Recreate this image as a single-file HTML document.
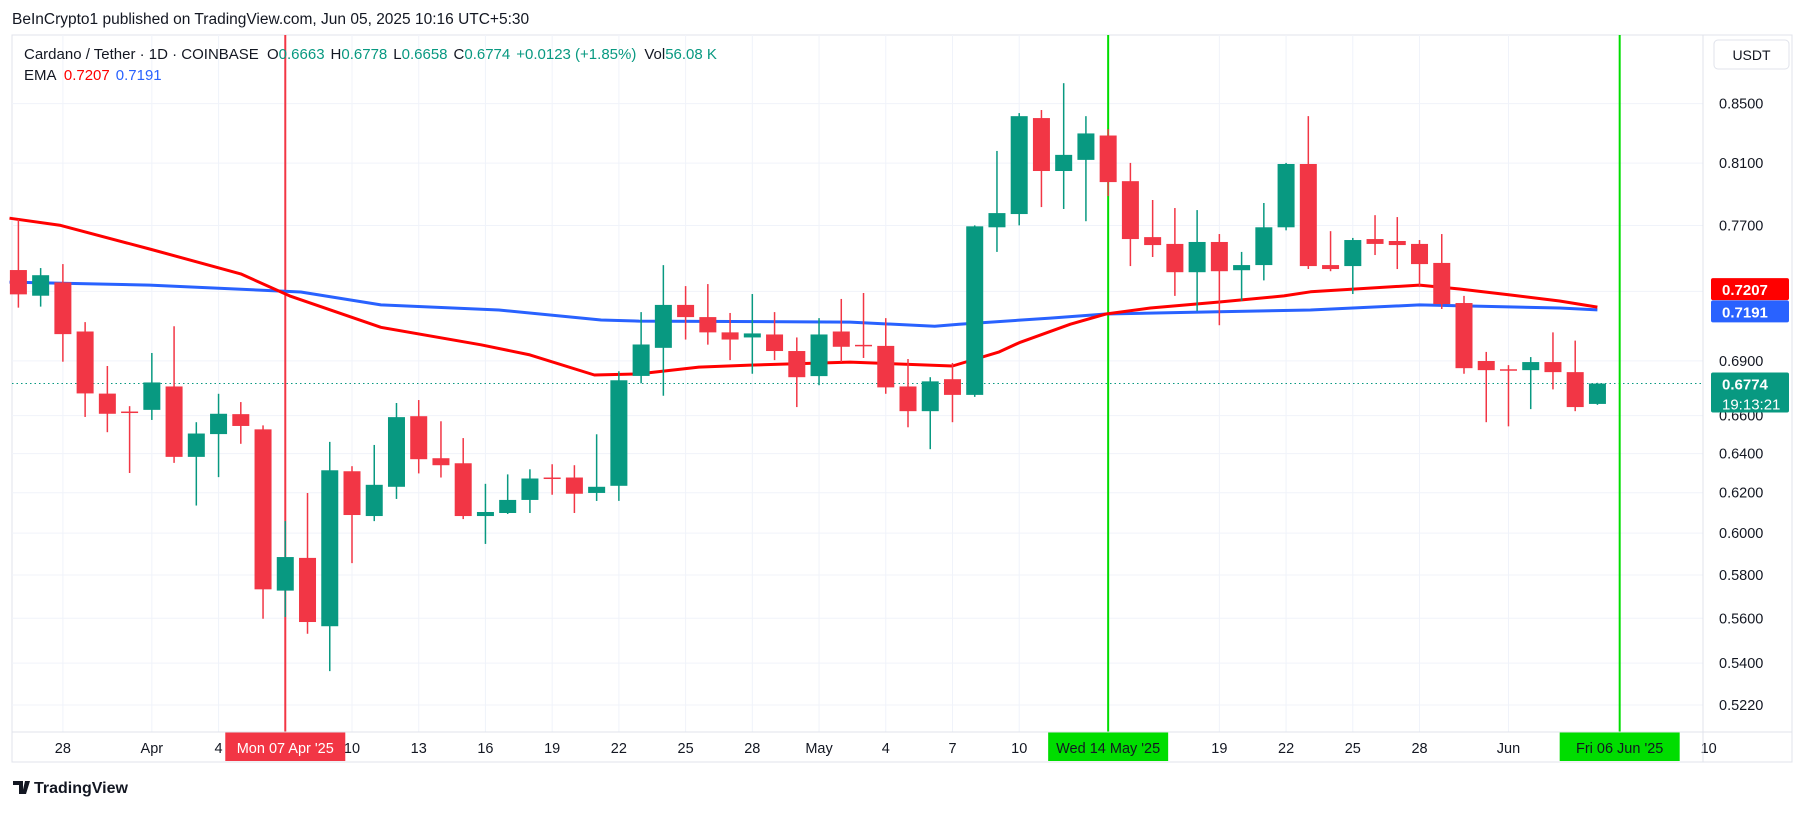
<!DOCTYPE html>
<html><head><meta charset="utf-8"><style>
html,body{margin:0;padding:0;background:#fff;}
body{width:1804px;height:809px;overflow:hidden;font-family:"Liberation Sans",sans-serif;}
svg text{font-family:"Liberation Sans",sans-serif;}
</style></head><body>
<svg id="chart" xmlns="http://www.w3.org/2000/svg" width="1804" height="809" viewBox="0 0 1804 809">
<rect x="0" y="0" width="1804" height="809" fill="#fff"/>
<text x="12" y="24" font-size="15.5" fill="#131722">BeInCrypto1 published on TradingView.com, Jun 05, 2025 10:16 UTC+5:30</text>
<rect x="12" y="35" width="1780" height="727" fill="none" stroke="#e0e3eb" stroke-width="1"/>
<g id="grid"></g>
<g id="vlines"></g>
<g id="emas"></g>
<g id="candles"></g>
<g id="axis"></g>
<g id="taxis"></g>
<line x1="1703" y1="35" x2="1703" y2="762" stroke="#e0e3eb"/>
<line x1="12" y1="732" x2="1792" y2="732" stroke="#e0e3eb"/>
<text x="24" y="59" font-size="15" fill="#131722">Cardano / Tether · 1D · COINBASE <tspan dx="4">O</tspan><tspan fill="#089981">0.6663</tspan><tspan dx="6">H</tspan><tspan fill="#089981">0.6778</tspan><tspan dx="6">L</tspan><tspan fill="#089981">0.6658</tspan><tspan dx="6">C</tspan><tspan fill="#089981">0.6774</tspan><tspan dx="6" fill="#089981">+0.0123 (+1.85%)</tspan><tspan dx="8">Vol</tspan><tspan fill="#089981">56.08 K</tspan></text>
<text x="24" y="80" font-size="15" fill="#131722">EMA <tspan dx="4" fill="#ff0000">0.7207</tspan><tspan dx="6" fill="#2962ff">0.7191</tspan></text>
<rect x="1714" y="40" width="75" height="29" rx="4" fill="#fff" stroke="#e0e3eb"/>
<text x="1751.5" y="60" font-size="14" fill="#131722" text-anchor="middle">USDT</text>
<g>
<path d="M13 781h10v13h-4v-9h-6z M25 781h5l-4 13h-4z" fill="#131722"/>
<text x="34" y="793" font-size="16" font-weight="bold" fill="#131722">TradingView</text>
</g>
</svg>
<script>
// Data arrays (Mar 26 2025 = day 0)
const opens  = [.7427,.7274,.7353,.7066,.6719,.6622,.6631,.6758,.6383,.6502,.6608,.6527,.5727,.5881,.5564,.6309,.6084,.6230,.6597,.6376,.6350,.6084,.6099,.6164,.6277,.6277,.6199,.6235,.6816,.6973,.7220,.7149,.7061,.7032,.7049,.6955,.6815,.7066,.6990,.6984,.6758,.6624,.6798,.6712,.7689,.7772,.8401,.8048,.8121,.8283,.7982,.7628,.7586,.7414,.7598,.7426,.7457,.7689,.8094,.7457,.7451,.7616,.7604,.7586,.7470,.7231,.6899,.6853,.6848,.6893,.6837,.6663];
const highs  = [.7738,.7439,.7463,.7120,.6871,.6651,.6944,.7096,.6565,.6718,.6673,.6548,.6059,.6199,.6461,.6335,.6445,.6668,.6684,.6570,.6481,.6245,.6293,.6319,.6345,.6340,.6501,.6842,.7178,.7457,.7331,.7343,.7173,.7284,.7178,.7032,.7143,.7255,.7290,.7143,.6910,.6809,.6888,.7701,.8180,.8435,.8456,.8642,.8414,.8326,.8101,.7861,.7810,.7797,.7647,.7537,.7842,.8101,.8414,.7665,.7623,.7765,.7753,.7610,.7647,.7273,.6950,.6876,.6921,.7061,.7014,.6778];
const lows   = [.7204,.7210,.6895,.6593,.6512,.6300,.6577,.6352,.6136,.6279,.6451,.5598,.5606,.5530,.5365,.5856,.6059,.6169,.6298,.6277,.6069,.5948,.6094,.6099,.6190,.6099,.6159,.6159,.6775,.6707,.7020,.6991,.6904,.6828,.6904,.6646,.6765,.6893,.6916,.6718,.6538,.6423,.6565,.6701,.7537,.7701,.7816,.7804,.7727,.7886,.7451,.7506,.7273,.7184,.7102,.7243,.7365,.7670,.7433,.7420,.7284,.7518,.7433,.7325,.7196,.6828,.6565,.6543,.6635,.6742,.6624,.6658];
const closes = [.7282,.7396,.7051,.6720,.6610,.6616,.6780,.6383,.6505,.6610,.6545,.5733,.5885,.5583,.6314,.6089,.6240,.6592,.6371,.6340,.6084,.6104,.6164,.6272,.6272,.6195,.6230,.6792,.6992,.7220,.7149,.7061,.7020,.7055,.6955,.6809,.7049,.6979,.6984,.6753,.6624,.6786,.6712,.7695,.7778,.8414,.8048,.8154,.8297,.7976,.7616,.7579,.7414,.7598,.7420,.7457,.7689,.8094,.7451,.7433,.7610,.7586,.7579,.7463,.7225,.6859,.6848,.6848,.6893,.6837,.6646,.6774];
const emaRedDays = [-0.4,1.9,5.9,10.0,12.2,16.3,20.8,23.0,25.9,27.9,30.6,32.9,37.4,42.0,44.1,45.0,47.3,48.9,50.9,54.0,56.9,58.1,63.0,64.8,67.1,69.3,71.0];
const emaRedVals = [.7746,.7701,.7555,.7404,.7273,.7090,.6990,.6933,.6821,.6827,.6865,.6876,.6893,.6871,.6950,.7002,.7108,.7167,.7202,.7237,.7273,.7297,.7337,.7314,.7278,.7243,.7207];
const emaBlueDays = [-0.4,5.9,12.7,16.3,21.6,26.2,27.9,37.4,41.2,42.3,46.4,48.9,53.1,58.1,63.0,69.3,71.0];
const emaBlueVals = [.7355,.7337,.7296,.7220,.7190,.7132,.7126,.7120,.7096,.7108,.7143,.7167,.7178,.7190,.7220,.7202,.7191];
const priceTicks = [0.85,0.81,0.77,0.73,0.69,0.66,0.64,0.62,0.60,0.58,0.56,0.54,0.522];
const priceTickLabels = ["0.8500","0.8100","0.7700","","0.6900","0.6600","0.6400","0.6200","0.6000","0.5800","0.5600","0.5400","0.5220"];
const timeTickDays = [2,6,9,15,18,21,24,27,30,33,36,39,42,45,54,57,60,63,67,76];
const timeTickLabels = ["28","Apr","4","10","13","16","19","22","25","28","May","4","7","10","19","22","25","28","Jun","10"];
const markerDays = [12,49,72];
const markerLabels = ["Mon 07 Apr '25","Wed 14 May '25","Fri 06 Jun '25"];
const markerColors = ["#f23645","#00dd00","#00dd00"];
const lastPrice = 0.6774;

const NS="http://www.w3.org/2000/svg";
function X(d){return 18.4+22.24*d;}
function Y(p){return 1233.3*(-0.0785-Math.log(p));}
function mk(tag,attrs,parent){const e=document.createElementNS(NS,tag);for(const k in attrs)e.setAttribute(k,attrs[k]);parent.appendChild(e);return e;}
const grid=document.getElementById('grid'),axis=document.getElementById('axis'),taxis=document.getElementById('taxis');
const vl=document.getElementById('vlines'),emas=document.getElementById('emas'),cg=document.getElementById('candles');

priceTicks.forEach((p,i)=>{
  const y=Y(p);
  const l=mk('line',{x1:12,x2:1703,y1:y,y2:y,stroke:'#f0f3fa','stroke-width':1},grid);
  
  
  if(priceTickLabels[i]){
    const t=mk('text',{x:1719,y:y+5,'font-size':14.5,fill:'#131722'},axis);
    t.textContent=priceTickLabels[i];
    
    
  }
});
timeTickDays.concat(markerDays).forEach(d=>{
  const x=X(d); if(x>1703) return;
  const l=mk('line',{x1:x,x2:x,y1:35,y2:732,stroke:'#f0f3fa','stroke-width':1},grid);
  
  
});
timeTickDays.forEach((d,i)=>{
  const t=mk('text',{x:X(d),y:753,'font-size':14.5,fill:'#131722','text-anchor':'middle'},taxis);
  t.textContent=timeTickLabels[i];
  
  
});
const dl=mk('line',{x1:12,x2:1703,y1:Y(lastPrice),y2:Y(lastPrice),stroke:'#089981','stroke-width':1,'stroke-dasharray':'1.5 3'},grid);



markerDays.forEach((d,i)=>{
  const x=X(d);
  const l=mk('line',{x1:x,x2:x,y1:35,y2:732,stroke:markerColors[i],'stroke-width':2},vl);
  
  
  const r=mk('rect',{x:x-60,y:732,width:120,height:29,fill:markerColors[i]},taxis);
  
  
  const t=mk('text',{x:x,y:753,'font-size':14.5,fill:i==0?'#fff':'#131722','text-anchor':'middle'},taxis);
  t.textContent=markerLabels[i];
  
  
});

function emaPath(days,vals){return days.map((d,i)=>(i?'L':'M')+X(d).toFixed(1)+' '+Y(vals[i]).toFixed(1)).join(' ');}
const eb=mk('path',{d:emaPath(emaBlueDays,emaBlueVals),fill:'none',stroke:'#2962ff','stroke-width':3,'stroke-linejoin':'round'},emas);


const er=mk('path',{d:emaPath(emaRedDays,emaRedVals),fill:'none',stroke:'#ff0000','stroke-width':3,'stroke-linejoin':'round'},emas);



opens.forEach((o,i)=>{
  const c=closes[i],up=c>=o,col=up?'#089981':'#f23645',x=X(i);
  const w=mk('line',{x1:x,x2:x,y1:Y(highs[i]),y2:Y(lows[i]),stroke:col,'stroke-width':1.5},cg);
  
  
  const top=Y(Math.max(o,c)),bot=Y(Math.min(o,c));
  const b=mk('rect',{x:x-8.5,y:top,width:17,height:Math.max(1.5,bot-top),fill:col},cg);
  
  
});

function plabel(cy,col,txt,name,h){
  const r=mk('rect',{x:1711,y:cy-11,width:78,height:h,rx:2,fill:col},axis);
  
  
  const t=mk('text',{x:1722,y:cy+6,'font-size':15,'font-weight':'bold',fill:'#fff'},axis);
  t.textContent=txt;
  
  
}
const redY=Y(emaRedVals[emaRedVals.length-1]);
const blueY=Y(emaBlueVals[emaBlueVals.length-1]);
plabel(redY-18,'#ff0000','0.7207','ema-red-price-label',22);
plabel(Math.max(blueY+1.5,redY+4),'#2962ff','0.7191','ema-blue-price-label',22);
const ly=Y(lastPrice);
plabel(ly,'#089981','0.6774','last-price-label',40);
const cd=mk('text',{x:1722,y:ly+26,'font-size':15,fill:'#fff'},axis);
cd.textContent='19:13:21';


</script>
</body></html>
